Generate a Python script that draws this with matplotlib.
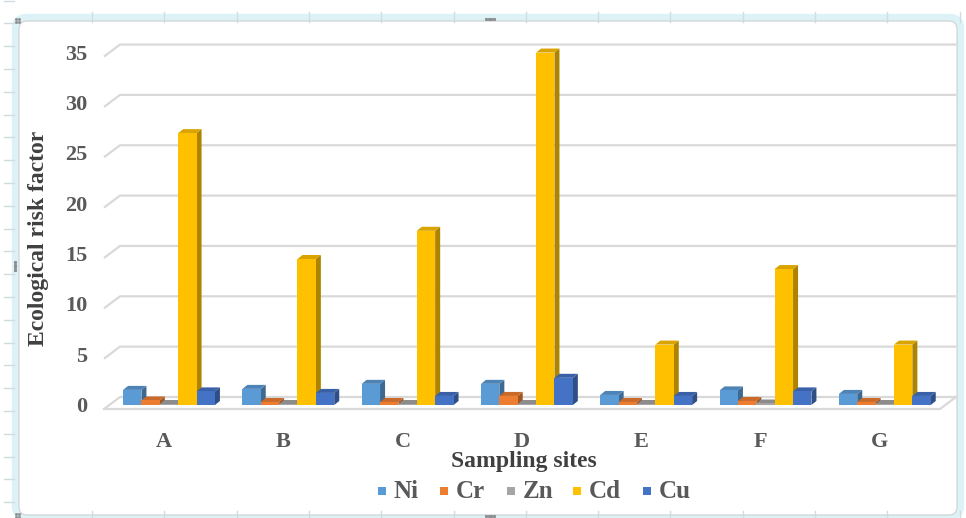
import matplotlib.pyplot as plt
from matplotlib.patches import Rectangle, Polygon, FancyBboxPatch
import numpy as np

# ecological risk factor per metal at each sampling site
sites = ['A', 'B', 'C', 'D', 'E', 'F', 'G']
metals = ['Ni', 'Cr', 'Zn', 'Cd', 'Cu']
ni = [1.5, 1.6, 2.1, 2.1, 1.0, 1.45, 1.1]
cr = [0.45, 0.3, 0.3, 0.9, 0.3, 0.4, 0.3]
zn = [0.1, 0.1, 0.1, 0.1, 0.1, 0.15, 0.1]
cd = [27.0, 14.5, 17.3, 35.0, 6.0, 13.5, 6.0]
cu = [1.35, 1.2, 0.9, 2.7, 0.9, 1.35, 0.9]
yticks = [0, 5, 10, 15, 20, 25, 30, 35]

series = [ni, cr, zn, cd, cu]
colors = ['#5B9BD5', '#ED7D31', '#A5A5A5', '#FFC000', '#4472C4']

W, H = 966, 518
fig = plt.figure(figsize=(W / 100, H / 100), dpi=100)

# background layer in pixel coordinates (sheet grid + chart frame)
bg = fig.add_axes([0, 0, 1, 1])
bg.set_xlim(0, W)
bg.set_ylim(H, 0)
bg.axis('off')
for cx in np.arange(92, W, 72.3):
    bg.plot([cx, cx], [12, 22], color='#CFDCE2', lw=1)
    bg.plot([cx, cx], [511, H], color='#CFDCE2', lw=1)
for ry in np.arange(0.5, H, 22.8):
    bg.plot([4, 14], [ry, ry], color='#CFDCE2', lw=1)
frame = FancyBboxPatch((16, 18), W - 22, H - 20, boxstyle='round,pad=0,rounding_size=10',
                       facecolor='white', edgecolor='#DDF2F7', lw=6)
bg.add_patch(frame)
inner = FancyBboxPatch((19, 21), W - 28, H - 24, boxstyle='round,pad=0,rounding_size=8',
                       facecolor='white', edgecolor='#D2D8DA', lw=1)
bg.add_patch(inner)
# resize handles
for hx, hy, vert in [(486, 19, False), (15, 262, True), (486, 516, False)]:
    for k in range(4):
        if vert:
            bg.plot(hx, hy + k * 2.5, 's', ms=1.2, color='#8A8F92')
        else:
            bg.plot(hx + k * 2.5, hy, 's', ms=1.2, color='#8A8F92')
for hx, hy in [(16, 19), (16, 514)]:
    for ox in (0, 3):
        for oy in (0, 3):
            bg.plot(hx + ox, hy + oy, 's', ms=1, color='#8A8F92')

# chart layer: x in category units, y in value units
ax = fig.add_axes([0, 0, 1, 1])
ax.patch.set_alpha(0)
px_x = 119.3   # pixels per category
px_y = 10.07   # pixels per value unit
x0px, y0px = 169, 405
ax.set_xlim(-x0px / px_x, (W - x0px) / px_x)
ax.set_ylim(-(H - y0px) / px_y, y0px / px_y)
ax.axis('off')

def dxp(p):
    return p / px_x

def dyp(p):
    return p / px_y

grid_c = '#D9D9D9'
xf_left, xb_left = dxp(104 - x0px), dxp(120 - x0px)
xb_right = dxp(956 - x0px)
xf_right = dxp(940 - x0px)
front_off, back_off = dyp(-4), dyp(8)

# back wall gridlines with the short left-wall stubs
for v in yticks:
    ax.plot([xf_left, xb_left, xb_right], [v + front_off, v + back_off, v + back_off],
            color=grid_c, lw=1.6, solid_capstyle='butt', zorder=1)
    ax.text(dxp(87 - x0px), v + dyp(-2), str(v), ha='right', va='center',
            fontsize=16, fontweight='bold', family='Liberation Serif', color='#595959')

# floor front edge
ax.plot([xf_left, xf_right, xb_right], [front_off, front_off, back_off],
        color=grid_c, lw=1.6, zorder=1)

# 3d-looking clustered columns
bw = 0.154
ddx, ddy = dxp(5), dyp(4)

def shade(c, f):
    r, g, b = [int(c[i:i + 2], 16) for i in (1, 3, 5)]
    return (r * f / 255, g * f / 255, b * f / 255)

for i in range(len(sites)):
    for j, vals in enumerate(series):
        v = vals[i]
        xl = i - 2.5 * bw + j * bw
        c = colors[j]
        z = 2 + j * 0.1
        ax.add_patch(Polygon([(xl + bw, 0), (xl + bw + ddx, ddy), (xl + bw + ddx, v + ddy), (xl + bw, v)],
                             closed=True, facecolor=shade(c, 0.68), edgecolor='none', zorder=z))
        ax.add_patch(Polygon([(xl, v), (xl + bw, v), (xl + bw + ddx, v + ddy), (xl + ddx, v + ddy)],
                             closed=True, facecolor=shade(c, 0.85), edgecolor='none', zorder=z))
        ax.add_patch(Rectangle((xl, 0), bw, v, facecolor=c, edgecolor='none', zorder=z))
    ax.text(i - dxp(5), dyp(405 - 442), sites[i], ha='center', va='center',
            fontsize=16, fontweight='bold', family='Liberation Serif', color='#595959')

ax.text(dxp(524 - x0px), dyp(405 - 461), 'Sampling sites', ha='center', va='center',
        fontsize=17, fontweight='bold', family='Liberation Serif', color='#404040')
ax.text(dxp(38 - x0px), dyp(405 - 238), 'Ecological risk factor', ha='center', va='center',
        rotation=90, fontsize=17, fontweight='bold', family='Liberation Serif', color='#404040')

# legend row
leg_x = [378, 440, 507, 573, 643]
for lx, name, c in zip(leg_x, metals, colors):
    bg.add_patch(Rectangle((lx, 487), 8, 8, facecolor=c, edgecolor='none'))
    bg.text(lx + 16, 491, name, ha='left', va='center', fontsize=18, fontweight='bold',
            family='Liberation Serif', color='#595959')

fig.savefig('out.png', dpi=100)
